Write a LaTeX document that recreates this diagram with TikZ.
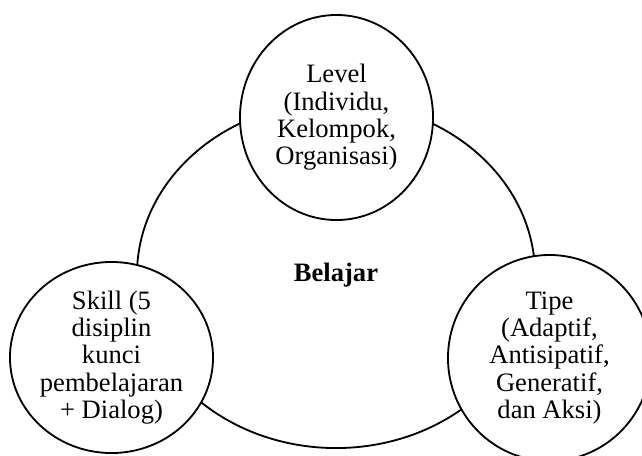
\documentclass[tikz,border=0pt]{standalone}
\usepackage{fontspec}
\setmainfont{Liberation Serif}
\usetikzlibrary{shapes.geometric}
\begin{document}
\begin{tikzpicture}[x=0.025cm,y=-0.025cm,
    lingkaran/.style={ellipse,draw,line width=1.3pt,inner xsep=0pt,inner ysep=-2pt,
      align=center,font=\fontsize{18.9}{19.4}\selectfont}]
      \useasboundingbox (0,0) rectangle (642,455);
      \node[lingkaran,minimum width=9.95cm,minimum height=8.65cm] (belajar)
        at (336,275) {\textbf{Belajar}};
      \node[lingkaran,fill=white,minimum width=4.825cm,minimum height=5.125cm] (level)
        at (336.5,117.5) {Level\\(Individu,\\Kelompok,\\Organisasi)};
      \node[lingkaran,fill=white,minimum width=5.075cm,minimum height=4.775cm] (skill)
        at (111.5,357.5) {Skill (5\\disiplin\\kunci\\pembelajaran\\+ Dialog)};
      \node[lingkaran,fill=white,minimum width=5.075cm,minimum height=5.15cm] (tipe)
        at (549.5,358) {Tipe\\(Adaptif,\\Antisipatif,\\Generatif,\\dan Aksi)};
\end{tikzpicture}
\end{document}
